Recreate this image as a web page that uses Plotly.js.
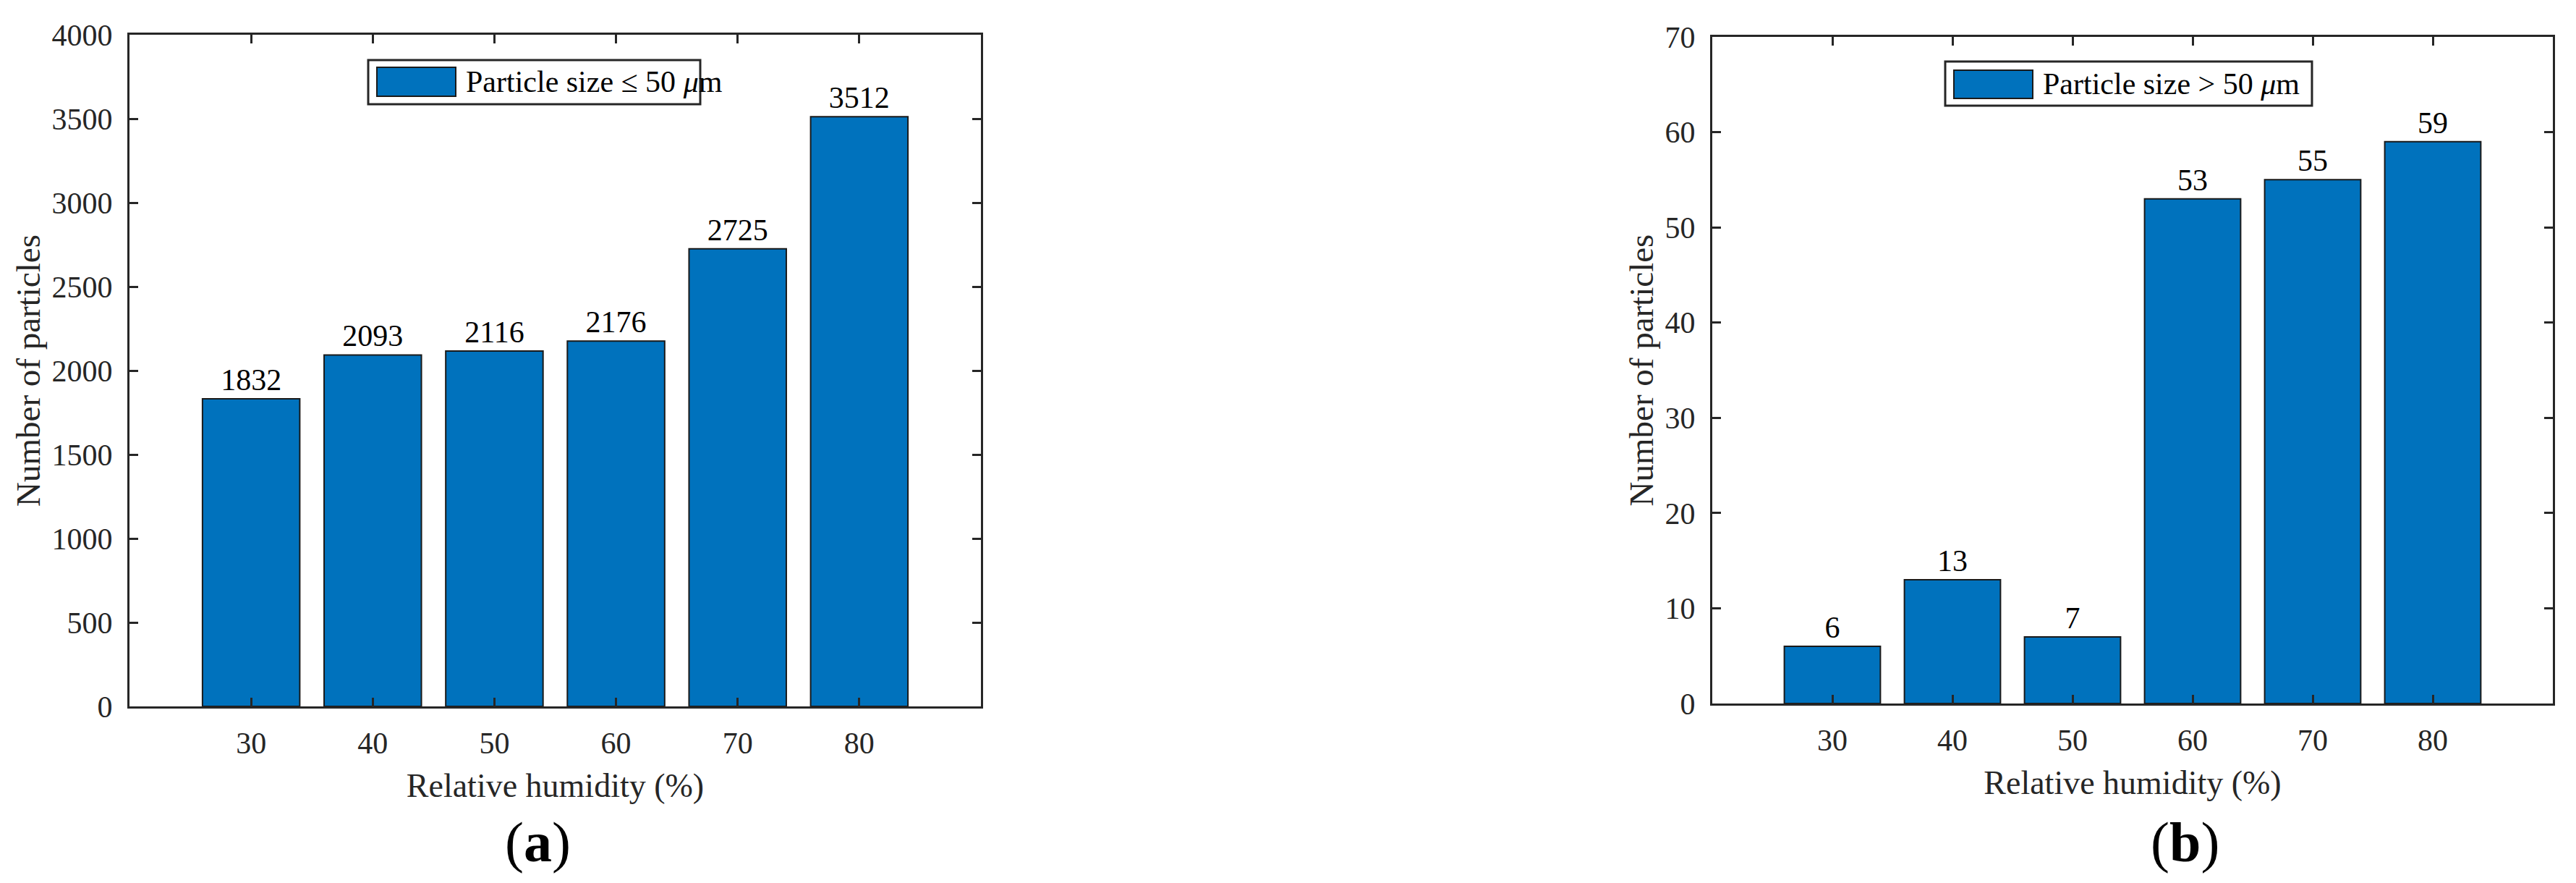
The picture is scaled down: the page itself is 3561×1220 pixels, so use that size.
<!DOCTYPE html>
<html>
<head>
<meta charset="utf-8">
<script src="https://cdn.plot.ly/plotly-3.0.1.min.js"></script>
<style>html,body{margin:0;padding:0;background:#fff;}#chart{width:3561px;height:1220px;}</style>
</head>
<body>
<div id="chart"></div>
<script>
// ---- data ----
const humidity = [30, 40, 50, 60, 70, 80];
const smallParticles = [1832, 2093, 2116, 2176, 2725, 3512];
const largeParticles = [6, 13, 7, 53, 55, 59];
const smallName = 'Particle size \u2264 50 <i>\u03bc</i>m';
const largeName = 'Particle size > 50 <i>\u03bc</i>m';
const xTitle = 'Relative humidity (%)';
const yTitle = 'Number of particles';
const panelLabels = ['(<b>a</b>)', '(<b>b</b>)'];

// ---- style ----
const W = 3561, H = 1220;
const FONT = 'Liberation Serif, Times New Roman, serif';
const AX = '#262626';
const BAR = '#0072BD';

function px(x){ return x / W; }
function py(y){ return 1 - y / H; }

const barTrace = (y, xa, ya) => ({
  type: 'bar', x: humidity, y: y, xaxis: xa, yaxis: ya,
  width: 8,
  marker: {color: BAR, line: {color: '#1a1a1a', width: 2}},
  text: y.map(String), textposition: 'outside', cliponaxis: false,
  constraintext: 'none',
  textfont: {family: FONT, size: 42, color: '#000'},
  showlegend: false, hoverinfo: 'x+y'
});

const axisX = (domain, anchor) => ({
  domain: domain, anchor: anchor, range: [20, 90],
  tickvals: humidity, ticktext: humidity.map(String),
  ticks: 'inside', ticklen: 12, tickwidth: 3, tickcolor: AX,
  showline: true, linecolor: AX, linewidth: 3, mirror: 'ticks',
  showgrid: false, zeroline: false,
  tickfont: {family: FONT, size: 42, color: AX},
  ticklabelstandoff: 12,
  title: {text: xTitle, font: {family: FONT, size: 46, color: AX}, standoff: 20}
});

const axisY = (domain, anchor, range, dtick) => ({
  domain: domain, anchor: anchor, range: range, dtick: dtick, tick0: 0,
  ticks: 'inside', ticklen: 12, tickwidth: 3, tickcolor: AX,
  showline: true, linecolor: AX, linewidth: 3, mirror: 'ticks',
  showgrid: false, zeroline: false,
  tickfont: {family: FONT, size: 42, color: AX},
  ticklabelstandoff: 12,
  title: {text: yTitle, font: {family: FONT, size: 47, color: AX}, standoff: 2}
});

const data = [
  barTrace(smallParticles, 'x', 'y'),
  barTrace(largeParticles, 'x2', 'y2')
];

// legend boxes (drawn as shapes + text)
function legendShapes(x0, y0, x1, y1, sx0, sy0, sx1, sy1){
  return [
    {type: 'rect', xref: 'paper', yref: 'paper', x0: px(x0), x1: px(x1), y0: py(y0), y1: py(y1),
     line: {color: AX, width: 3}, fillcolor: '#fff'},
    {type: 'rect', xref: 'paper', yref: 'paper', x0: px(sx0), x1: px(sx1), y0: py(sy0), y1: py(sy1),
     line: {color: '#1a1a1a', width: 2}, fillcolor: BAR}
  ];
}

const layout = {
  width: W, height: H,
  margin: {l: 0, r: 0, t: 0, b: 0},
  paper_bgcolor: '#fff', plot_bgcolor: '#fff',
  showlegend: false,
  bargap: 0.2,
  xaxis: axisX([px(179), px(1356)], 'y'),
  yaxis: axisY([py(976), py(48)], 'x', [0, 4000], 500),
  xaxis2: axisX([px(2367), px(3529)], 'y2'),
  yaxis2: axisY([py(972), py(51)], 'x2', [0, 70], 10),
  shapes: [].concat(
    legendShapes(509, 83, 968, 144, 521, 93, 630, 133),
    legendShapes(2689, 85, 3196, 146, 2701, 97, 2810, 136)
  ),
  annotations: [
    {xref: 'paper', yref: 'paper', x: px(642), y: py(113), xanchor: 'left', yanchor: 'middle',
     text: smallName, showarrow: false, font: {family: FONT, size: 42, color: '#000'}},
    {xref: 'paper', yref: 'paper', x: px(2822), y: py(116), xanchor: 'left', yanchor: 'middle',
     text: largeName, showarrow: false, font: {family: FONT, size: 42, color: '#000'}},
    {xref: 'paper', yref: 'paper', x: px(743), y: py(1163), xanchor: 'center', yanchor: 'middle',
     text: panelLabels[0], showarrow: false, font: {family: FONT, size: 78, color: '#000'}},
    {xref: 'paper', yref: 'paper', x: px(3020), y: py(1163), xanchor: 'center', yanchor: 'middle',
     text: panelLabels[1], showarrow: false, font: {family: FONT, size: 78, color: '#000'}}
  ]
};

Plotly.newPlot('chart', data, layout, {displayModeBar: false, staticPlot: true});
</script>
</body>
</html>
